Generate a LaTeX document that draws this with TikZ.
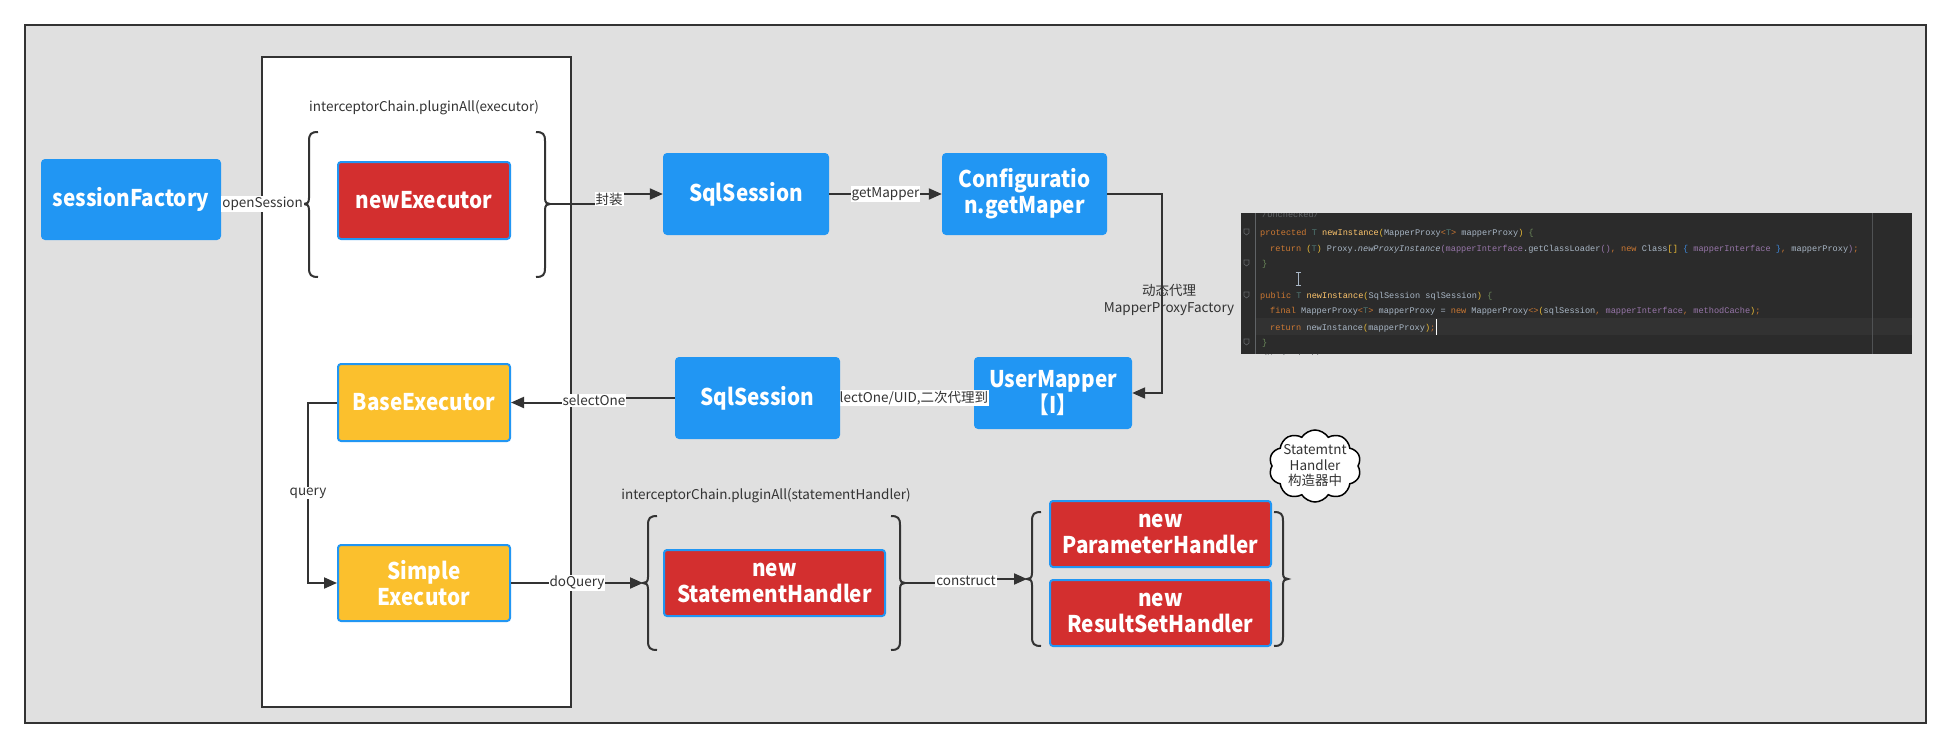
\documentclass[tikz,border=0pt]{standalone}
\usepackage{fontspec}
\setmainfont{Noto Sans CJK SC}
\newfontfamily\boxfamily[FakeStretch=0.9]{Noto Sans CJK SC}
\newfontfamily\codefont{Liberation Mono}
\usetikzlibrary{arrows.meta,shapes.symbols,calc}
\pgfdeclarelayer{back}
\pgfdeclarelayer{mid}
\pgfsetlayers{back,mid,main}
\definecolor{bgGray}{HTML}{E0E0E0}
\definecolor{lineDark}{HTML}{333333}
\definecolor{mBlue}{HTML}{2196F3}
\definecolor{mRed}{HTML}{D32F2F}
\definecolor{mYellow}{HTML}{FBC02D}
\definecolor{codeBg}{HTML}{2B2B2B}
\definecolor{codeHl}{HTML}{323232}
\definecolor{cKw}{HTML}{CC7832}
\definecolor{cTp}{HTML}{507874}
\definecolor{cMd}{HTML}{FFC66D}
\definecolor{cPl}{HTML}{A9B7C6}
\definecolor{cFd}{HTML}{9876AA}
\definecolor{cBr}{HTML}{E8BA36}
\definecolor{cGr}{HTML}{6A8759}
\definecolor{cCy}{HTML}{3E86D6}
\definecolor{cGu}{HTML}{606366}
\newcommand\zK[1]{\textcolor{cKw}{#1}}
\newcommand\zT[1]{\textcolor{cTp}{#1}}
\newcommand\zM[1]{\textcolor{cMd}{#1}}
\newcommand\zP[1]{\textcolor{cPl}{#1}}
\newcommand\zI[1]{\textcolor{cPl}{\itshape #1}}
\newcommand\zF[1]{\textcolor{cFd}{#1}}
\newcommand\zB[1]{\textcolor{cBr}{#1}}
\newcommand\zG[1]{\textcolor{cGr}{#1}}
\newcommand\zC[1]{\textcolor{cCy}{#1}}
% left brace: spine x, top y, bottom y, tip y
\newcommand\drawLeftBrace[4]{%
  \draw[bracest] (#1+9,#2) .. controls (#1+2,#2) and (#1,#2+2) .. (#1,#2+9)
    -- (#1,#4-6) .. controls (#1,#4-1) and (#1-2,#4) .. (#1-5,#4)
    .. controls (#1-2,#4) and (#1,#4+1) .. (#1,#4+6)
    -- (#1,#3-9) .. controls (#1,#3-2) and (#1+2,#3) .. (#1+9,#3);}
\newcommand\drawRightBrace[4]{%
  \draw[bracest] (#1-9,#2) .. controls (#1-2,#2) and (#1,#2+2) .. (#1,#2+9)
    -- (#1,#4-6) .. controls (#1,#4-1) and (#1+2,#4) .. (#1+5,#4)
    .. controls (#1+2,#4) and (#1,#4+1) .. (#1,#4+6)
    -- (#1,#3-9) .. controls (#1,#3-2) and (#1-2,#3) .. (#1-9,#3);}
\tikzset{
  boxfont/.style={font=\boxfamily\bfseries\fontsize{23}{26}\selectfont},
  bluebox/.style={rectangle, rounded corners=4pt, fill=mBlue, draw=none, text=white, boxfont, align=center, inner sep=0pt},
  redbox/.style={rectangle, rounded corners=3pt, fill=mRed, draw=mBlue, line width=2pt, text=white, boxfont, align=center, inner sep=0pt},
  yellowbox/.style={rectangle, rounded corners=3pt, fill=mYellow, draw=mBlue, line width=2pt, text=white, boxfont, align=center, inner sep=0pt},
  conn/.style={draw=lineDark, line width=2pt},
  arr/.style={conn, -{Triangle[length=13pt,width=11pt]}},
  bracest/.style={draw=lineDark, line width=2pt},
  lbl/.style={fill=white, inner sep=1pt, text=lineDark, font=\fontsize{13.5}{16}\selectfont},
  plainlbl/.style={inner sep=0pt, text=lineDark, font=\fontsize{13.5}{17}\selectfont, align=center},
  codeline/.style={anchor=base west, inner sep=0pt, font=\codefont\fontsize{8.6}{10}\selectfont}
}
\begin{document}
\begin{tikzpicture}[x=1pt,y=-1pt]
\useasboundingbox (0,0) rectangle (1951,749);
\begin{pgfonlayer}{back}
  \fill[white] (0,0) rectangle (1951,749);
  \draw[fill=bgGray, draw=lineDark, line width=2.5pt] (25,25) rectangle (1926,723);
  \draw[fill=white, draw=lineDark, line width=2pt] (262,57) rectangle (571,707);
  \node[bluebox, minimum width=158pt, minimum height=72pt] (um) at (1053,393) {UserMapper\\【I】};
\end{pgfonlayer}

% ---- texts above braces
\node[plainlbl] (t1) at (424,108) {interceptorChain.pluginAll(executor)};
\node[plainlbl] (t2) at (766,496) {interceptorChain.pluginAll(statementHandler)};

% ---- nodes
\node[bluebox, minimum width=180pt, minimum height=81pt] (sf) at (131,199.5) {sessionFactory};
\node[redbox, minimum width=172pt, minimum height=77pt] (ne) at (424,200.5) {newExecutor};
\node[bluebox, minimum width=166pt, minimum height=82pt] (ss1) at (746,194) {SqlSession};
\node[bluebox, minimum width=165pt, minimum height=82pt] (cfg) at (1024.5,194) {Configuratio\\n.getMaper};
\node[bluebox, minimum width=165pt, minimum height=82pt] (ss2) at (757.5,398) {SqlSession};
\node[yellowbox, minimum width=172pt, minimum height=77pt] (be) at (424,402.5) {BaseExecutor};
\node[yellowbox, minimum width=172pt, minimum height=76pt] (se) at (424,583) {Simple\\Executor};
\node[redbox, minimum width=221pt, minimum height=66pt] (sh) at (774.5,583) {new\\StatementHandler};
\node[redbox, minimum width=221pt, minimum height=66pt] (ph) at (1160.5,534) {new\\ParameterHandler};
\node[redbox, minimum width=221pt, minimum height=66pt] (rh) at (1160.5,613) {new\\ResultSetHandler};

% ---- braces
\drawLeftBrace{309}{132}{277}{204}
\drawRightBrace{545}{132}{277}{204}
\drawLeftBrace{648}{516}{650}{583}
\drawRightBrace{900}{516}{650}{583}
\drawLeftBrace{1032}{512}{646}{579}
\drawRightBrace{1283}{512}{646}{579}
\coordinate (b1L) at (304,204);
\coordinate (b1R) at (550,204);
\coordinate (b2L) at (643,583);
\coordinate (b2R) at (905,583);
\coordinate (b3L) at (1027,579);
\coordinate (b3R) at (1288,579);

% ---- connectors
\draw[conn] (sf.east |- b1L) -- node[lbl] {openSession} (b1L);

\coordinate (j1) at (609,199);
\draw[arr] (b1R) -| (j1) |- (ss1.west);
\node[lbl] (l1) at (j1) {封装};

\draw[arr] (ss1.east) -- node[lbl, pos=0.5] {getMapper} (cfg.west);

\coordinate (j4) at (1162,300);
\draw[arr] (cfg.east) -| (j4) |- (um.east);
\node[plainlbl] (l4) at (1169,300) {动态代理\\MapperProxyFactory};

\begin{pgfonlayer}{mid}
  \draw[conn] (um.west |- ss2.east) -- node[lbl] {selectOne/UID,二次代理到} (ss2.east);
\end{pgfonlayer}

\coordinate (j2) at (594,400.5);
\draw[arr] (ss2.west) -| (j2) |- (be.east);
\node[lbl] (l2) at (j2) {selectOne};

\coordinate (j5) at (308,493);
\draw[arr] (be.west) -| (j5) |- (se.west);
\node[lbl] (l5) at (j5) {query};

\draw[arr] (se.east) -- node[lbl] {doQuery} (b2L);

\coordinate (j3) at (966,581);
\draw[arr] (b2R) -| (j3) |- (b3L);
\node[lbl] (l3) at (j3) {construct};

% ---- cloud
\node[cloud, cloud puffs=10, cloud puff arc=115, cloud ignores aspect, draw=black, line width=1.5pt, fill=white,
      inner sep=-10pt, minimum width=92pt, minimum height=72pt, align=center, text=lineDark,
      font=\fontsize{13.5}{15.5}\selectfont] (cl) at (1315,466) {Statemtnt\\Handler\\构造器中};

% ---- code panel
\fill[codeBg] (1241,213) rectangle (1912,354);
\fill[codeHl] (1255,318) rectangle (1912,335);
\draw[cGu!70!codeBg, line width=0.8pt] (1872,213) -- (1872,354);
\draw[cGu, line width=0.6pt] (1255,213) -- (1255,354);
\begin{scope}
  \clip (1241,213) rectangle (1912,354);
  \node[codeline, text=cGu] (c0) at (1262,217) {/Unchecked/};
  \node[codeline] (c9) at (1262,360) {\textcolor{cGu}{/Unchecked/}};
\end{scope}
\node[codeline] (c1) at (1260,235) {\zK{protected} \zT{T} \zM{newInstance}\zB{(}\zP{MapperProxy}\zK{<}\zT{T}\zK{>} \zP{mapperProxy}\zB{)} \zG{\{}};
\node[codeline] (c2) at (1270,251) {\zK{return} \zB{(}\zT{T}\zB{)} \zP{Proxy.}\zI{newProxyInstance}\zF{(mapperInterface}\zP{.getClassLoader}\zF{()}\zK{,} \zK{new} \zP{Class}\zB{[]} \zC{\{} \zF{mapperInterface} \zC{\}}\zK{,} \zP{mapperProxy}\zF{)}\zK{;}};
\node[codeline] (c3) at (1262,266) {\zG{\}}};
\node[codeline] (c5) at (1260,298) {\zK{public} \zT{T} \zM{newInstance}\zB{(}\zP{SqlSession sqlSession}\zB{)} \zG{\{}};
\node[codeline] (c6) at (1270,313) {\zK{final} \zP{MapperProxy}\zK{<}\zT{T}\zK{>} \zP{mapperProxy = }\zK{new} \zP{MapperProxy}\zK{<>}\zB{(}\zP{sqlSession}\zK{,} \zF{mapperInterface}\zK{,} \zF{methodCache}\zB{)}\zK{;}};
\node[codeline] (c7) at (1270,330) {\zK{return} \zP{newInstance}\zB{(}\zP{mapperProxy}\zB{)}\zK{;}};
\node[codeline] (c8) at (1262,345) {\zG{\}}};
% text cursor and mouse I-beam
\draw[white, line width=1pt] (1436,319) -- (1436,335);
\draw[cPl, line width=0.8pt] (1298,272) -- (1298,285) (1295.5,272) -- (1300.5,272) (1295.5,285) -- (1300.5,285);
% fold markers in the gutter
\foreach \yy in {232,263,295,342} {
  \draw[cGu, line width=0.6pt] (1244,\yy-3) -- (1249,\yy-3) -- (1249,\yy+1) -- (1246.5,\yy+3) -- (1244,\yy+1) -- cycle;
}
\end{tikzpicture}
\end{document}
